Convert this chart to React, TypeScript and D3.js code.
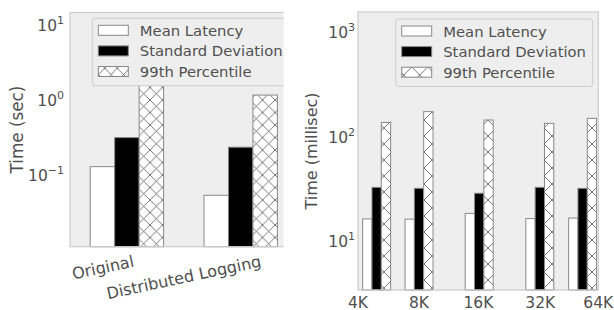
import React, { useEffect, useRef } from 'react';
import * as d3 from 'd3';

const seriesNames = ['Mean Latency', 'Standard Deviation', '99th Percentile'];

// left panel (seconds)
const setupLabels = ['Original', 'Distributed Logging'];
const setupPos = [0, 1];
const setupLabelPos = [-0.21, 0.5];
const setupMean = [0.129, 0.0536];
const setupStd = [0.314, 0.234];
const setupP99 = [1.6, 1.156];
const setupTicks = [0.1, 1, 10];

// right panel (milliseconds)
const sizeLabels = ['4K', '8K', '16K', '32K', '64K'];
const sizePos = [0.44, 1.44, 2.86, 4.29, 5.3];
const sizeLabelPos = [0, 1.44, 2.84, 4.3, 5.67];
const sizeMean = [16.3, 16.2, 18.4, 16.4, 16.6];
const sizeStd = [32.7, 32.0, 28.7, 32.7, 32.0];
const sizeP99 = [137, 174, 144.6, 134.4, 150];
const sizeTicks = [10, 100, 1000];

const BG = '#eeeeee';
const EDGE = '#cccccc';
const TEXT = '#505050';
const BAR_EDGE = '#888888';
const FONT = 'DejaVu Sans, sans-serif';

function addHatch(defs, id, d) {
  const pat = defs.append('pattern')
    .attr('id', id)
    .attr('patternUnits', 'userSpaceOnUse')
    .attr('width', d)
    .attr('height', d);
  pat.append('rect').attr('width', d).attr('height', d).attr('fill', '#ffffff');
  pat.append('path')
    .attr('d', `M0,0L${d},${d}M${d},0L0,${d}`)
    .attr('stroke', '#555555')
    .attr('stroke-width', 0.8)
    .attr('fill', 'none');
}

function drawPanel(svg, defs, p) {
  const g = svg.append('g').attr('font-family', FONT);
  if (p.clipRight) {
    defs.append('clipPath').attr('id', p.id + '-clip')
      .append('rect').attr('x', 0).attr('y', 0).attr('width', p.clipRight).attr('height', 310);
    g.attr('clip-path', `url(#${p.id}-clip)`);
  }

  const x = d3.scaleLinear().domain(p.xDomain).range([p.left, p.right]);
  const y = d3.scaleLog().domain(p.yDomain).range([p.bottom, p.top]);

  g.append('rect')
    .attr('x', p.left).attr('y', p.top)
    .attr('width', p.right - p.left).attr('height', p.bottom - p.top)
    .attr('fill', BG);

  const series = [p.mean, p.std, p.p99];
  const fills = ['#ffffff', '#000000', `url(#${p.hatchId})`];
  const bw = x(p.barW) - x(0);
  series.forEach((vals, s) => {
    g.selectAll(null)
      .data(vals)
      .enter().append('rect')
      .attr('x', (d, i) => x(p.pos[i] + (s - 1.5) * p.barW))
      .attr('y', d => y(d))
      .attr('width', bw)
      .attr('height', d => p.bottom - y(d))
      .attr('fill', fills[s])
      .attr('stroke', BAR_EDGE)
      .attr('stroke-width', 1);
  });

  g.append('rect')
    .attr('x', p.left).attr('y', p.top)
    .attr('width', p.right - p.left).attr('height', p.bottom - p.top)
    .attr('fill', 'none')
    .attr('stroke', EDGE)
    .attr('stroke-width', 1.2);

  // legend
  const lg = g.append('g').attr('transform', `translate(${p.legend[0]},${p.legend[1]})`);
  lg.append('rect')
    .attr('width', 197).attr('height', 67.5)
    .attr('rx', 3)
    .attr('fill', BG)
    .attr('stroke', EDGE)
    .attr('stroke-width', 1);
  seriesNames.forEach((name, i) => {
    const cy = 12 + i * 20.6;
    lg.append('rect')
      .attr('x', 6).attr('y', cy - 5)
      .attr('width', 30).attr('height', 10)
      .attr('fill', fills[i])
      .attr('stroke', BAR_EDGE)
      .attr('stroke-width', 1);
    lg.append('text')
      .attr('x', 47.5).attr('y', cy)
      .attr('dominant-baseline', 'central')
      .attr('font-size', 14.8)
      .attr('fill', TEXT)
      .text(name);
  });

  // y tick labels
  p.ticks.forEach(t => {
    const e = Math.round(Math.log10(t));
    const txt = g.append('text')
      .attr('x', p.left - p.tickPad)
      .attr('y', y(t) + 6)
      .attr('text-anchor', 'end')
      .attr('font-size', 15.5)
      .attr('fill', TEXT);
    txt.append('tspan').text('10');
    txt.append('tspan')
      .attr('dy', -7)
      .attr('font-size', 11)
      .text(e < 0 ? '\u2212' + Math.abs(e) : String(e));
  });

  // y axis title
  g.append('text')
    .attr('transform', `translate(${p.ylabelX},${(p.top + p.bottom) / 2}) rotate(-90)`)
    .attr('text-anchor', 'middle')
    .attr('dominant-baseline', 'central')
    .attr('font-size', p.ylabelSize)
    .attr('fill', TEXT)
    .text(p.ylabel);

  // x tick labels
  p.labels.forEach((lab, i) => {
    const cx = x(p.labelPos[i]);
    if (p.rotate) {
      const t = g.append('text')
        .attr('text-anchor', 'middle')
        .attr('dominant-baseline', 'central')
        .attr('font-size', 16)
        .attr('fill', TEXT)
        .text(lab);
      const w = t.node().getComputedTextLength();
      const a = p.rotate * Math.PI / 180;
      const cy = p.bottom + 7 + (w * Math.sin(a) + 15 * Math.cos(a)) / 2;
      t.attr('transform', `translate(${cx},${cy}) rotate(${-p.rotate})`);
    } else {
      g.append('text')
        .attr('x', cx)
        .attr('y', p.bottom + 17.5)
        .attr('text-anchor', 'middle')
        .attr('font-size', 15.5)
        .attr('fill', TEXT)
        .text(lab);
    }
  });
}

export default function App() {
  const ref = useRef(null);

  useEffect(() => {
    const svg = d3.select(ref.current);
    svg.selectAll('*').remove();
    const defs = svg.append('defs');
    addHatch(defs, 'hatch-left', 12.5);
    addHatch(defs, 'hatch-right', 16);

    drawPanel(svg, defs, {
      id: 'left',
      left: 70, right: 297.6, top: 12.5, bottom: 246.7,
      clipRight: 283.5,
      xDomain: [-0.5, 1.5],
      yDomain: [0.0111, 14.5],
      pos: setupPos,
      barW: 0.215,
      mean: setupMean, std: setupStd, p99: setupP99,
      hatchId: 'hatch-left',
      legend: [92.3, 18.3],
      ticks: setupTicks,
      tickPad: 6,
      ylabel: 'Time (sec)',
      ylabelX: 17,
      ylabelSize: 16.8,
      labels: setupLabels,
      labelPos: setupLabelPos,
      rotate: 12,
    });

    drawPanel(svg, defs, {
      id: 'right',
      left: 358, right: 598.3, top: 12, bottom: 290,
      xDomain: [0, 5.67],
      yDomain: [3.39, 1570],
      pos: sizePos,
      barW: 0.22,
      mean: sizeMean, std: sizeStd, p99: sizeP99,
      hatchId: 'hatch-right',
      legend: [395.7, 19],
      ticks: sizeTicks,
      tickPad: 3,
      ylabel: 'Time (millisec)',
      ylabelX: 311,
      ylabelSize: 16,
      labels: sizeLabels,
      labelPos: sizeLabelPos,
      rotate: 0,
    });
  }, []);

  return (
    <svg
      ref={ref}
      width={614}
      height={310}
      style={{ position: 'absolute', left: 0, top: 0, background: '#ffffff' }}
    />
  );
}
